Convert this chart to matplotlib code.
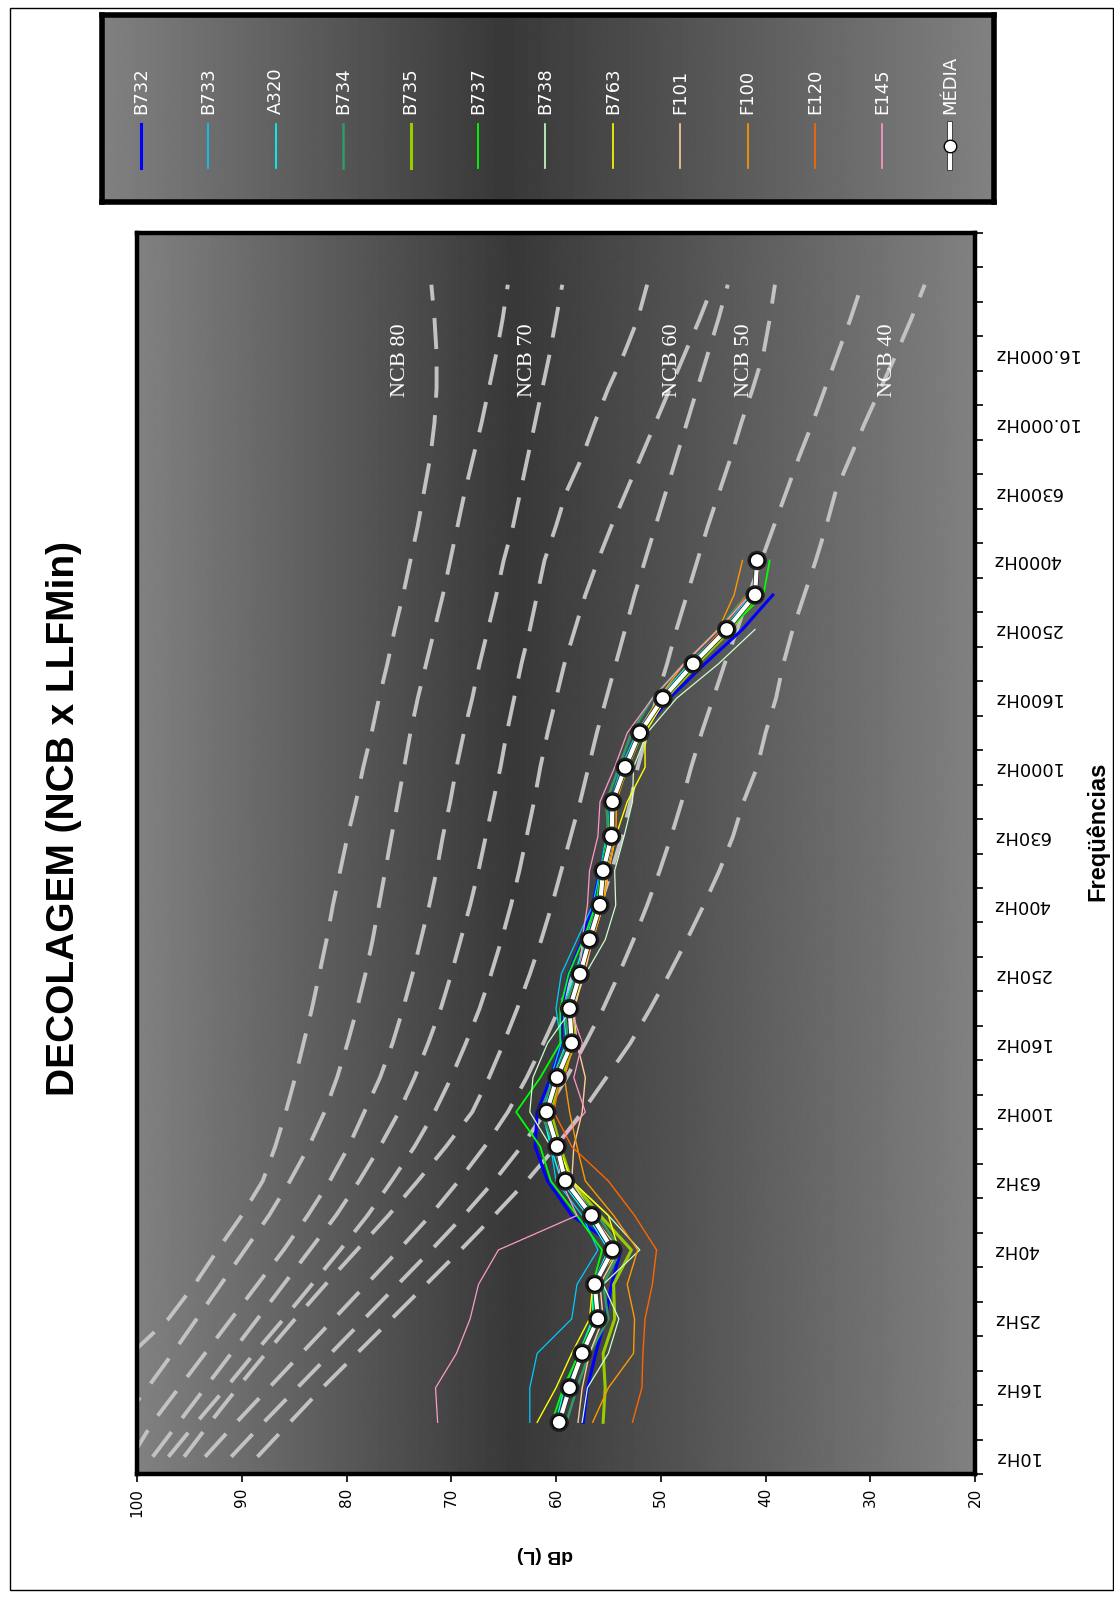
import numpy as np
import matplotlib
matplotlib.use("Agg")
import matplotlib.pyplot as plt
import matplotlib.patheffects as pe
from matplotlib.patches import Rectangle

# ---------------- data ----------------
freq_categories = ["10Hz", "12.5Hz", "16Hz", "20Hz", "25Hz", "31.5Hz", "40Hz", "50Hz", "63Hz",
                   "80Hz", "100Hz", "125Hz", "160Hz", "200Hz", "250Hz", "315Hz", "400Hz",
                   "500Hz", "630Hz", "800Hz", "1000Hz", "1250Hz", "1600Hz", "2000Hz",
                   "2500Hz", "3150Hz", "4000Hz", "5000Hz", "6300Hz", "8000Hz", "10.000Hz",
                   "12.500Hz", "16.000Hz", "20.000Hz", "25.000Hz", "31.500Hz"]
shown_freq_labels = ["10Hz", "16Hz", "25Hz", "40Hz", "63Hz", "100Hz", "160Hz", "250Hz", "400Hz",
                     "630Hz", "1000Hz", "1600Hz", "2500Hz", "4000Hz", "6300Hz", "10.000Hz",
                     "16.000Hz"]
db_ticks = [100, 90, 80, 70, 60, 50, 40, 30, 20]

nan = np.nan
# aircraft series, 12.5 Hz ... 4000 Hz (26 bands)
B732 = [57.4, 57.0, 56.2, 55.3, 54.7, 53.8, 58.5, 60.8, 62.0, 61.8, 60.5, 59.5, 59.5, 58.8, 57.5,
        56.5, 55.8, 55.0, 54.8, 53.5, 51.8, 49.2, 45.8, 42.2, 39.3, nan]
B733 = [62.5, 62.5, 61.8, 58.5, 58.0, 56.0, 57.5, 60.0, 60.5, 61.0, 60.5, 59.5, 60.0, 59.5, 58.0,
        56.5, 55.8, 55.2, 54.8, 53.8, 52.3, 50.0, 47.2, 44.0, 41.5, nan]
A320 = [60.0, 59.2, 57.8, 56.5, 56.5, 55.0, 57.0, 59.5, 60.5, 61.3, 60.3, 59.0, 59.3, 58.2, 57.2,
        56.0, 55.5, 55.0, 54.8, 53.6, 52.3, 50.2, 47.3, 44.0, 41.3, nan]
B734 = [59.0, 58.0, 56.8, 55.0, 55.5, 53.8, 56.0, 58.8, 60.0, 61.5, 60.2, 58.8, 59.2, 58.0, 57.0,
        56.0, 55.6, 55.0, 55.2, 54.0, 52.8, 50.8, 47.8, 44.5, 41.8, nan]
B735 = [55.5, 55.3, 55.5, 54.4, 54.5, 52.8, 55.8, 58.5, 59.6, 60.5, 59.5, 58.2, 58.5, 57.5, 56.6,
        55.6, 55.3, 54.6, 54.4, 53.2, 51.8, 49.5, 46.5, 43.3, 40.8, nan]
B737 = [60.4, 59.3, 57.8, 56.3, 56.5, 55.6, 58.0, 60.5, 61.5, 63.8, 61.5, 59.6, 59.6, 58.8, 57.4,
        56.2, 55.7, 55.0, 54.7, 53.4, 52.0, 49.6, 46.6, 43.5, 40.2, 39.6]
B738 = [57.5, 57.0, 55.0, 54.0, 55.5, 52.0, 55.0, 58.5, 60.5, 62.5, 62.2, 60.8, 58.5, 57.2, 55.3,
        54.3, 54.4, 53.5, 52.7, 52.6, 51.3, 48.5, 44.5, 41.0, nan, nan]
B763 = [61.8, 60.0, 58.5, 56.8, 56.5, 54.0, 55.0, 58.5, 59.8, 61.0, 60.0, 58.6, 58.2, 57.5, 56.6,
        55.5, 55.0, 54.3, 53.2, 51.5, 51.5, 49.5, 46.8, 43.8, nan, nan]
F101 = [57.9, 57.5, 56.8, 55.5, 55.8, 54.0, 56.5, 58.5, 58.3, 57.5, 57.2, 58.0, 58.3, 57.3, 56.5,
        55.5, 55.2, 54.5, 54.4, 53.3, 51.9, 49.8, 46.8, 43.6, 41.2, nan]
F100 = [56.5, 55.0, 52.6, 52.5, 53.2, 52.2, 54.5, 57.2, 58.0, 58.7, 59.2, 58.3, 58.5, 57.5, 56.5,
        55.5, 55.0, 54.3, 54.2, 53.3, 52.2, 50.2, 47.8, 44.5, 43.0, 42.2]
E120 = [52.7, 51.8, 51.7, 51.5, 50.8, 50.4, 52.5, 55.0, 58.5, 60.2, 59.6, 58.4, 58.6, 57.6, 56.6,
        55.7, 55.3, 54.6, 54.5, 53.3, 52.0, 49.8, 47.0, 44.2, 41.8, nan]
E145 = [71.3, 71.5, 69.5, 68.2, 67.4, 65.5, 58.0, 59.5, 60.0, 57.2, 58.3, 57.5, 58.6, 57.7, 57.5,
        57.0, 56.8, 56.0, 55.8, 54.4, 53.2, 50.8, 47.8, 44.5, 41.5, nan]
MEDIA = [59.7, 58.7, 57.5, 56.0, 56.3, 54.6, 56.6, 59.1, 59.9, 60.9, 59.9, 58.5, 58.7, 57.7, 56.8,
         55.8, 55.5, 54.7, 54.6, 53.4, 52.0, 49.8, 46.9, 43.7, 41.0, 40.8]

series_names = ["B732", "B733", "A320", "B734", "B735", "B737", "B738", "B763",
                "F101", "F100", "E120", "E145"]
series_values = [B732, B733, A320, B734, B735, B737, B738, B763, F101, F100, E120, E145]
series_colors = ["#0000FF", "#00CCFF", "#00FFFF", "#339966", "#99CC00", "#00FF00", "#CCFFCC",
                 "#FFFF00", "#FFCC99", "#FF9900", "#FF6600", "#FF99CC"]
series_widths = [2.2, 0.9, 1.0, 1.8, 2.2, 1.3, 0.9, 1.0, 1.0, 1.0, 1.0, 0.9]

# NCB reference curves, 10 Hz ... 25.000 Hz (35 bands)
NCB80 = [nan, nan, nan, 100.5, 97.0, 94.5, 92.3, 90.0, 88.0, 86.8, 85.8, 84.9, 84.1, 83.3, 82.6,
         81.9, 81.3, 80.6, 79.9, 79.1, 78.4, 77.6, 76.9, 76.1, 75.4, 74.6, 73.9, 73.2, 72.6, 72.0,
         71.6, 71.4, 71.4, 71.6, 71.9]
NCB75 = [nan, 101.5, 99.0, 96.6, 94.3, 92.0, 89.7, 87.4, 85.4, 83.6, 82.1, 80.9, 79.9, 79.0, 78.2,
         77.5, 76.9, 76.3, 75.7, 75.1, 74.5, 73.9, 73.2, 72.4, 71.6, 70.8, 70.1, 69.4, 68.7, 67.9,
         67.1, 66.4, 65.7, 65.1, 64.6]
NCB70 = [100.5, 98.5, 96.0, 93.5, 91.0, 88.5, 86.0, 83.7, 81.6, 79.8, 78.3, 76.8, 75.6, 74.6, 73.7,
         72.9, 72.1, 71.4, 70.8, 70.1, 69.5, 68.8, 68.0, 67.3, 66.5, 65.7, 65.0, 64.1, 63.4, 62.7,
         62.0, 61.3, 60.6, 60.0, 59.4]
NCB65 = [98.5, 96.0, 93.5, 91.0, 88.5, 86.0, 83.5, 81.0, 78.8, 76.8, 75.0, 73.5, 72.2, 71.0, 70.0,
         69.1, 68.2, 67.4, 66.7, 66.0, 65.3, 64.7, 64.0, 63.3, 62.5, 61.8, 61.1, 60.0, 59.0, 57.5,
         56.3, 55.0, 53.5, 52.2, 51.3]
NCB60 = [97.0, 94.3, 91.5, 88.8, 86.0, 83.3, 80.6, 78.0, 75.7, 73.5, 71.6, 70.0, 68.6, 67.3, 66.2,
         65.2, 64.3, 63.5, 62.8, 62.1, 61.5, 60.8, 60.0, 59.2, 58.2, 57.2, 56.0, 54.7, 53.3, 51.9,
         50.5, 49.1, 47.7, 46.3, 45.0]
NCB55 = [95.5, 93.0, 90.4, 87.7, 84.9, 82.0, 79.0, 76.0, 73.2, 70.5, 68.0, 66.4, 65.0, 63.7, 62.5,
         61.4, 60.4, 59.5, 58.6, 57.7, 56.9, 56.1, 55.2, 54.3, 53.4, 52.5, 51.5, 50.5, 49.5, 48.5,
         47.5, 46.5, 45.5, 44.5, 43.6]
NCB50 = [93.5, 90.5, 87.4, 84.3, 81.2, 78.1, 75.0, 72.0, 69.3, 66.8, 64.6, 62.8, 61.2, 59.7, 58.3,
         57.0, 55.8, 54.7, 53.7, 52.9, 52.2, 51.3, 50.4, 49.4, 48.5, 47.5, 46.5, 45.5, 44.4, 43.3,
         42.3, 41.2, 40.2, 39.6, 39.1]
NCB45 = [91.0, 87.9, 84.7, 81.5, 78.3, 75.1, 71.9, 68.8, 65.9, 63.3, 61.0, 59.0, 57.2, 55.5, 54.0,
         52.6, 51.3, 50.1, 49.0, 48.0, 47.1, 46.1, 45.0, 43.9, 42.7, 41.6, 40.4, 39.2, 38.0, 36.8,
         35.5, 34.3, 33.1, 31.9, 30.8]
NCB40 = [88.5, 85.4, 82.3, 79.0, 75.7, 72.4, 69.1, 65.9, 62.8, 60.0, 57.5, 55.2, 52.9, 51.0, 49.2,
         47.5, 45.9, 44.4, 43.1, 42.1, 40.8, 40.0, 39.0, 38.3, 37.4, 36.3, 35.2, 34.2, 33.3, 31.9,
         30.5, 29.0, 27.5, 26.1, 24.8]
ncb_curves = [NCB80, NCB75, NCB70, NCB65, NCB60, NCB55, NCB50, NCB45, NCB40]
ncb_label_text = ["NCB 80", "NCB 70", "NCB 60", "NCB 50", "NCB 40"]
ncb_label_db = [74.8, 62.7, 48.9, 42.0, 28.4]

# ---------------- figure ----------------
W, H = 1114, 1598
fig = plt.figure(figsize=(W / 100, H / 100), dpi=100)
fig.patch.set_facecolor("white")


def fx(x):
    return x / W


def fy(y):
    return 1 - y / H


def gradient(ax, peak=0.45):
    t = np.linspace(0, 1, 800)
    s = np.where(t < peak, t / peak, (1 - t) / (1 - peak))
    g = 0.505 - 0.285 * s
    ax.imshow(g[np.newaxis, :], extent=[0, 1, 0, 1], transform=ax.transAxes, aspect="auto",
              cmap="gray", vmin=0, vmax=1, zorder=0, interpolation="bilinear")


# outer frame
fig.add_artist(Rectangle((fx(10), fy(1590)), fx(1103), 1582 / H, transform=fig.transFigure,
                         fill=False, edgecolor="black", linewidth=1))

# ---- main plot (rotated layout: dB horizontal, frequency vertical) ----
ax = fig.add_axes([fx(137), fy(1474), fx(838), 1241 / H])
gradient(ax)
ax.set_xlim(100, 20)
ax.set_ylim(-0.5, len(freq_categories) - 0.5)

cat_idx = np.arange(len(freq_categories))
ncb_idx = cat_idx[:len(NCB80)]
for curve in ncb_curves:
    ax.plot(curve, ncb_idx, color="#C2C2C2", lw=2.8, ls=(0, (8, 4.5)), zorder=1,
            dash_capstyle="butt")

ser_idx = cat_idx[1:1 + len(MEDIA)]
for vals, col, lw in zip(series_values, series_colors, series_widths):
    ax.plot(vals, ser_idx, color=col, lw=lw, zorder=3)

ax.plot(MEDIA, ser_idx, color="white", lw=3.0, marker="o", ms=10, mfc="white", mec="black",
        mew=1.0, zorder=5,
        path_effects=[pe.Stroke(linewidth=4.0, foreground="#202020"), pe.Normal()])

for txt, xv in zip(ncb_label_text, ncb_label_db):
    ax.text(xv, 31.8, txt, rotation=90, color="white", fontsize=16, family="Liberation Serif",
            ha="center", va="center", zorder=6)

# axes styling
for s in ax.spines.values():
    s.set_linewidth(3.2)
    s.set_color("black")
ax.set_xticks(db_ticks)
ax.set_xticklabels([str(v) for v in db_ticks], rotation=90, fontsize=11, family="DejaVu Sans")
ax.tick_params(axis="x", direction="out", length=6, width=1.2, pad=4)

ax.yaxis.tick_right()
ax.set_yticks(cat_idx[:len(shown_freq_labels) * 2:2])
ax.set_yticklabels(shown_freq_labels, rotation=180, fontsize=13, family="DejaVu Sans")
ax.set_yticks(np.arange(-0.5, len(freq_categories), 1.0), minor=True)
ax.tick_params(axis="y", which="major", length=0, pad=13)
ax.tick_params(axis="y", which="minor", direction="out", length=6, width=1.2)
for lab in ax.get_yticklabels():
    lab.set_rotation_mode("anchor")
    lab.set_ha("right")
    lab.set_va("center")

# titles
fig.text(fx(64), fy(818), "DECOLAGEM (NCB x LLFMin)", rotation=90, fontsize=28,
         weight="bold", family="Liberation Sans", ha="center", va="center")
fig.text(fx(545), fy(1554), "dB (L)", rotation=180, fontsize=14, weight="bold",
         family="Liberation Sans", ha="center", va="center")
fig.text(fx(1098), fy(831), "Freqüências", rotation=90, fontsize=17, weight="bold",
         family="Liberation Sans", ha="center", va="center")

# ---- legend box ----
lax = fig.add_axes([fx(102), fy(202), fx(892), 187 / H])
gradient(lax)
lax.set_xlim(0, 1)
lax.set_ylim(0, 1)
lax.set_xticks([])
lax.set_yticks([])
for s in lax.spines.values():
    s.set_linewidth(4)
    s.set_color("black")

leg_names = series_names + ["MÉDIA"]
for k, name in enumerate(leg_names):
    xc = (141 + 67.4 * k - 102) / 892
    lax.text(xc, (202 - 114) / 187, name, rotation=90, color="white", fontsize=13,
             family="DejaVu Sans", ha="center", va="bottom")
    y0, y1 = (202 - 124) / 187, (202 - 168) / 187
    if k < len(series_names):
        lax.plot([xc, xc], [y0, y1], color=series_colors[k], lw=max(series_widths[k], 1.2))
    else:
        lax.plot([xc, xc], [y0, y1], color="white", lw=3.0,
                 path_effects=[pe.Stroke(linewidth=4.0, foreground="#202020"), pe.Normal()])
        lax.plot([xc], [(y0 + y1) / 2], marker="o", ms=9, mfc="white", mec="black", mew=1.0)

fig.savefig("out.png", dpi=100)
